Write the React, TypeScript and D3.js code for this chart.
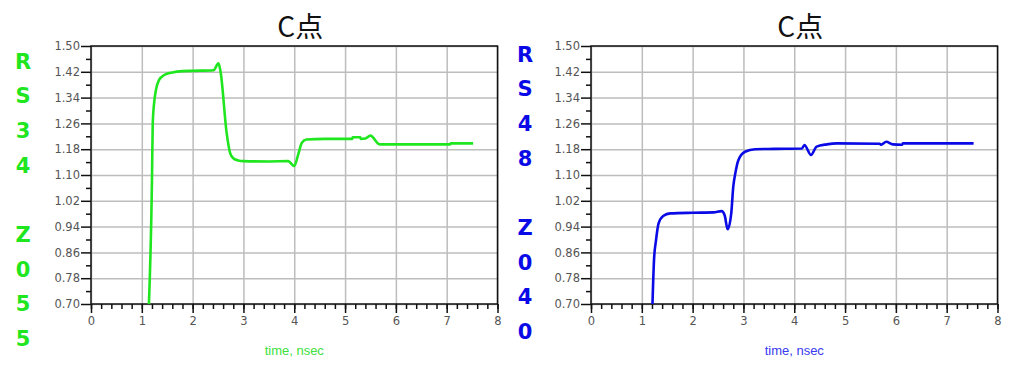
import React, { useEffect, useRef } from "react";
import * as d3 from "d3";

// values
const yMajor = [0.7, 0.78, 0.86, 0.94, 1.02, 1.1, 1.18, 1.26, 1.34, 1.42, 1.5];
const xMajor = [0, 1, 2, 3, 4, 5, 6, 7, 8];

const greenTime = [1.14, 1.2, 1.215, 1.24, 1.28, 1.34, 1.44, 1.6, 1.8, 2.0, 2.41, 2.51, 2.55, 2.67, 2.74, 2.8, 2.9, 3.0, 3.5, 3.88, 4.0, 4.08, 4.15, 4.24, 4.6, 5.14, 5.15, 5.3, 5.31, 5.4, 5.5, 5.68, 6.5, 7.07, 7.08, 7.52];
const greenVolt = [0.7, 1.085, 1.26, 1.32, 1.365, 1.395, 1.41, 1.418, 1.422, 1.423, 1.425, 1.446, 1.42, 1.23, 1.167, 1.152, 1.145, 1.143, 1.142, 1.143, 1.128, 1.165, 1.2, 1.21, 1.212, 1.212, 1.217, 1.217, 1.212, 1.213, 1.222, 1.195, 1.195, 1.195, 1.198, 1.198];

const blueTime = [1.21, 1.24, 1.28, 1.33, 1.42, 1.56, 2.0, 2.41, 2.57, 2.63, 2.69, 2.76, 2.8, 2.84, 2.9, 3.03, 3.23, 3.6, 4.15, 4.2, 4.33, 4.44, 4.64, 4.84, 5.68, 5.71, 5.81, 5.94, 6.12, 6.14, 7.0, 7.53];
const blueVolt = [0.7, 0.836, 0.898, 0.95, 0.973, 0.981, 0.983, 0.984, 0.988, 0.975, 0.932, 0.981, 1.064, 1.105, 1.146, 1.172, 1.18, 1.181, 1.182, 1.193, 1.162, 1.188, 1.195, 1.198, 1.197, 1.194, 1.203, 1.195, 1.194, 1.198, 1.198, 1.198];

const panels = [
  { left: 0, sideLabel: "RS34 Z055", sideY: 61, color: "#1fe61f", labelColor: "#3ee03e", time: greenTime, volt: greenVolt, sideX: 23 },
  { left: 500, sideLabel: "RS48 Z040", sideY: 54, color: "#0a0ae6", labelColor: "#3a3af0", time: blueTime, volt: blueVolt, sideX: 525 },
];

function drawPanel(root: any, p: any) {
  const plotL = p.left + 91;
  const plotT = 46;
  const w = 406.5;
  const h = 258;

  const x = d3.scaleLinear().domain([0, 8]).range([0, w]);
  const y = d3.scaleLinear().domain([0.7, 1.5]).range([h, 0]);

  const g = root.append("g").attr("transform", `translate(${plotL},${plotT})`);

  // grid
  g.append("g")
    .call(d3.axisBottom(x).tickValues(xMajor).tickSize(-h).tickFormat(() => ""))
    .attr("transform", `translate(0,${h})`)
    .call((s: any) => s.select(".domain").remove())
    .selectAll("line").attr("stroke", "#bdbdbd").attr("stroke-width", 1.5);
  g.append("g")
    .call(d3.axisLeft(y).tickValues(yMajor).tickSize(-w).tickFormat(() => ""))
    .call((s: any) => s.select(".domain").remove())
    .selectAll("line").attr("stroke", "#bdbdbd").attr("stroke-width", 1.5);

  // minor ticks
  const xMinor = d3.range(0, 8.001, 0.2);
  const yMinor = d3.range(0.74, 1.5, 0.08);
  g.append("g")
    .attr("transform", `translate(0,${h})`)
    .call(d3.axisBottom(x).tickValues(xMinor).tickSize(5).tickFormat(() => ""))
    .call((s: any) => s.select(".domain").remove())
    .selectAll("line").attr("stroke", "#111").attr("stroke-width", 1.5);
  g.append("g")
    .call(d3.axisLeft(y).tickValues(yMinor).tickSize(5).tickFormat(() => ""))
    .call((s: any) => s.select(".domain").remove())
    .selectAll("line").attr("stroke", "#111").attr("stroke-width", 1.5);

  // major axes
  const xa = g.append("g")
    .attr("transform", `translate(0,${h})`)
    .call(d3.axisBottom(x).tickValues(xMajor).tickSize(9).tickPadding(4).tickFormat(d3.format("d")));
  const ya = g.append("g")
    .call(d3.axisLeft(y).tickValues(yMajor).tickSize(10).tickPadding(1).tickFormat(d3.format(".2f")));
  [xa, ya].forEach((a: any) => {
    a.select(".domain").remove();
    a.selectAll("line").attr("stroke", "#111").attr("stroke-width", 1.5);
    a.selectAll("text")
      .attr("fill", "#555")
      .style("font-family", "'DejaVu Sans', sans-serif")
      .style("font-size", "11.5px");
  });

  // frame
  g.append("rect")
    .attr("width", w)
    .attr("height", h)
    .attr("fill", "none")
    .attr("stroke", "#111")
    .attr("stroke-width", 1.5);

  // series
  const pts = p.time.map((t: number, i: number) => [t, p.volt[i]]);
  const clipId = `clip${p.left}`;
  g.append("clipPath").attr("id", clipId).append("rect").attr("width", w).attr("height", h + 1);
  g.append("path")
    .datum(pts)
    .attr("clip-path", `url(#${clipId})`)
    .attr("fill", "none")
    .attr("stroke", p.color)
    .attr("stroke-width", 2.6)
    .attr("stroke-linejoin", "round")
    .attr("d", d3.line().curve(d3.curveMonotoneX).x((d: any) => x(d[0])).y((d: any) => y(d[1])));

  // title
  root.append("text")
    .attr("x", plotL + w / 2 + 6)
    .attr("y", 37)
    .attr("text-anchor", "middle")
    .style("font-family", "'Noto Sans CJK SC', 'Noto Sans', sans-serif")
    .style("font-size", "28px")
    .attr("fill", "#111")
    .text("C点");

  // x label
  root.append("text")
    .attr("x", plotL + w / 2)
    .attr("y", 355)
    .attr("text-anchor", "middle")
    .style("font-family", "'Liberation Sans', Arial, sans-serif")
    .style("font-size", "13px")
    .attr("fill", p.labelColor)
    .text("time, nsec");

  // side label, one character per row
  root.append("g")
    .selectAll("text")
    .data(p.sideLabel.split(""))
    .join("text")
    .attr("x", p.sideX)
    .attr("y", (_: any, i: number) => p.sideY + i * 34.7)
    .attr("dy", "0.36em")
    .attr("text-anchor", "middle")
    .style("font-family", "'DejaVu Sans', sans-serif")
    .style("font-weight", "bold")
    .style("font-size", "21px")
    .attr("fill", p.color)
    .text((d: string) => d);
}

export default function App() {
  const ref = useRef<SVGSVGElement>(null);

  useEffect(() => {
    const svg = d3.select(ref.current);
    svg.selectAll("*").remove();
    svg.append("rect").attr("width", 1024).attr("height", 371).attr("fill", "#fff");
    panels.forEach((p) => drawPanel(svg, p));
  }, []);

  return (
    <svg
      ref={ref}
      width={1024}
      height={371}
      style={{ position: "absolute", left: 0, top: 0 }}
    />
  );
}
